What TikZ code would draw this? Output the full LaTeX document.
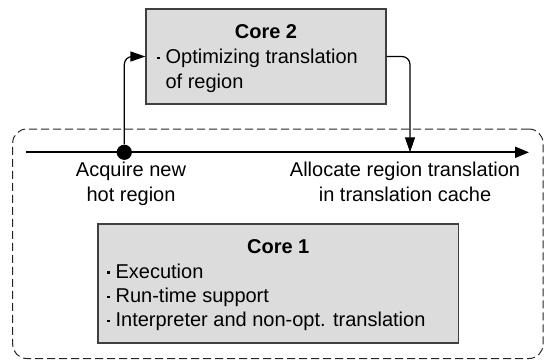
\documentclass[tikz,border=0pt]{standalone}
\usepackage{fontspec}
\setmainfont{Liberation Sans}
\usetikzlibrary{arrows.meta}
\newcommand{\sqbul}{\makebox[4.1pt][l]{\raisebox{2.4pt}{\rule{1.1pt}{1.1pt}}}}
\definecolor{boxfill}{HTML}{DCDCDC}
\definecolor{boxline}{HTML}{404040}
\begin{document}
\begin{tikzpicture}[x=0.5pt,y=-0.5pt,
  every node/.style={font=\fontsize{10}{12.5}\selectfont, inner sep=0pt},
  corebox/.style={draw=boxline, line width=0.6pt, fill=boxfill, rectangle},
  hostbox/.style={draw=black!85, line width=0.5pt, dash pattern=on 4pt off 2pt,
                  rounded corners=7pt, rectangle},
  conn/.style={draw=black, line width=0.6pt, rounded corners=4pt,
               -{Triangle[length=7.5pt,width=5pt]}},
  timeline/.style={draw=black, line width=1pt,
               -{Triangle[length=7pt,width=5.5pt]}},
  lbl/.style={anchor=base},
  dotnode/.style={circle, fill=black, minimum size=7.6pt, inner sep=0pt}
]
\useasboundingbox (0,0) rectangle (544,360);

% dashed region around the main timeline and Core 1
\node[hostbox, minimum width=265.15pt, minimum height=114.75pt] (host) at (277.85,243.75) {};

% Core 2 box
\node[corebox, minimum width=120pt, minimum height=47.5pt] (core2) at (266,56.5) {};
\node[lbl, font=\fontsize{10}{12.5}\selectfont\bfseries] (c2title) at (266,38.5) {Core 2};
\node[anchor=base west] (c2items) at (157,63.5)
  {\begin{tabular}[t]{@{}l@{}l@{}}\sqbul & Optimizing translation\\ & of region\end{tabular}};

% Core 1 box
\node[corebox, minimum width=180.25pt, minimum height=59.5pt] (core1) at (278.25,283.5) {};
\node[lbl, font=\fontsize{10}{12.5}\selectfont\bfseries] (c1title) at (278.25,253.5) {Core 1};
\node[anchor=base west, font=\fontsize{10}{12.1}\selectfont] (c1items) at (107,278.3)
  {\begin{tabular}[t]{@{}l@{}l@{}}\sqbul & Execution\\ \sqbul & Run-time support\\ \sqbul & Interpreter and non-opt. translation\end{tabular}};

% timeline
\coordinate (tstart) at (26,152.3);
\coordinate (tend) at (529,152.3);
\coordinate (alloc) at (410,152.3);
\draw[timeline] (tstart) -- (tend);
\node[dotnode] (acquire) at (124.3,152.3) {};

% timeline labels
\node[lbl] (acqlbl) at (131,176.7)
  {\begin{tabular}[t]{@{}c@{}}Acquire new\\hot region\end{tabular}};
\node[lbl] (alloclbl) at (405,176.7)
  {\begin{tabular}[t]{@{}c@{}}Allocate region translation\\in translation cache\end{tabular}};

% hand-off between the cores
\draw[conn] (acquire.north) |- (core2.west);
\draw[conn] (core2.east) -| (alloc);
\end{tikzpicture}
\end{document}
